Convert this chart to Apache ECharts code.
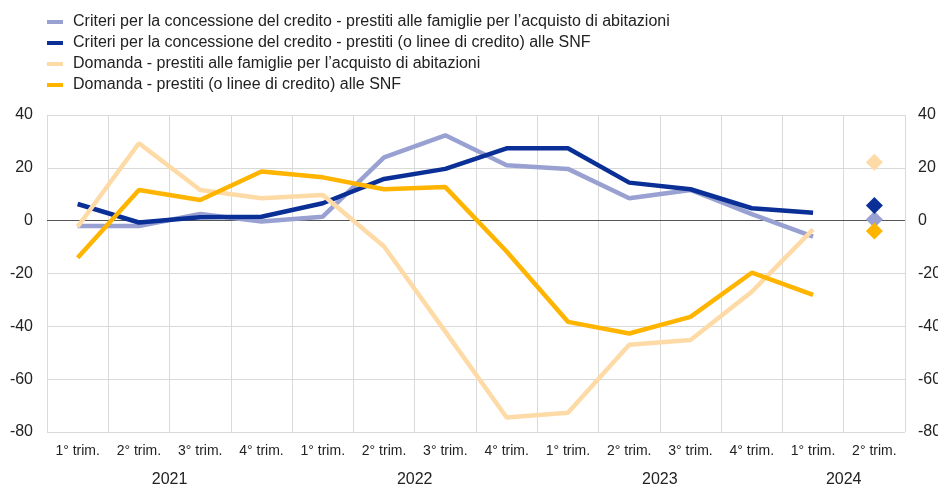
<!DOCTYPE html>
<html>
<head>
<meta charset="utf-8">
<script src="https://cdn.jsdelivr.net/npm/echarts@6/dist/echarts.min.js"></script>
<style>
  html, body { margin: 0; padding: 0; background: #fff; }
  #main { width: 938px; height: 487px; }
</style>
</head>
<body>
<div id="main"></div>
<script>
// trimestri e anni
const quarters = ['1° trim.', '2° trim.', '3° trim.', '4° trim.',
                  '1° trim.', '2° trim.', '3° trim.', '4° trim.',
                  '1° trim.', '2° trim.', '3° trim.', '4° trim.',
                  '1° trim.', '2° trim.'];
const years = ['2021', '2022', '2023', '2024'];
const quartersPerYear = [4, 4, 4, 2];
const yTicks = [-80, -60, -40, -20, 0, 20, 40];

// serie storiche (1° trim. 2021 - 1° trim. 2024)
const criteriFamiglie = [-2, -2, 2.5, -0.3, 1.5, 24, 32.3, 21, 19.6, 8.5, 11.6, 2.5, -6];
const criteriSNF = [6.3, -0.7, 1.3, 1.5, 6.6, 15.8, 19.6, 27.4, 27.4, 14.4, 11.9, 4.7, 3];
const domandaFamiglie = [-2.3, 29.3, 11.6, 8.5, 9.7, -9.8, -42, -74.5, -72.7, -47, -45.2, -26.9, -3.3];
const domandaSNF = [-14, 11.6, 7.8, 18.6, 16.4, 11.9, 12.7, -11.7, -38.3, -42.7, -36.4, -19.7, -28.1];
// attese per il 2° trim. 2024 (stesso ordine della legenda)
const attese = [0.4, 5.7, 22.1, -3.9];

const names = [
  'Criteri per la concessione del credito - prestiti alle famiglie per l\u2019acquisto di abitazioni',
  'Criteri per la concessione del credito - prestiti (o linee di credito) alle SNF',
  'Domanda - prestiti alle famiglie per l\u2019acquisto di abitazioni',
  'Domanda - prestiti (o linee di credito) alle SNF'
];
const colors = ['#98a1d2', '#0a2f96', '#fedba6', '#ffb400'];
const seriesData = [criteriFamiglie, criteriSNF, domandaFamiglie, domandaSNF];

// etichette degli anni centrate sui gruppi di trimestri
const yearSlots = new Array(quarters.length + 1).fill('');
const yearBounds = [0];
let acc = 0;
quartersPerYear.forEach((n, i) => {
  yearSlots[acc + n / 2] = years[i];
  acc += n;
  yearBounds.push(acc);
});

const font = 'Liberation Sans, Arial, sans-serif';
const textColor = '#222';
const gridColor = '#d9d9d9';

const lineSeries = seriesData.map((d, i) => ({
  name: names[i],
  type: 'line',
  data: d,
  xAxisIndex: 0,
  yAxisIndex: 0,
  symbol: 'none',
  lineStyle: { color: colors[i], width: 4.5 },
  itemStyle: { color: colors[i] },
  z: 3 + i,
  markLine: i === 0 ? {
    silent: true,
    symbol: 'none',
    label: { show: false },
    lineStyle: { color: '#555', width: 1, type: 'solid' },
    data: [{ yAxis: 0 }],
    z: 2
  } : undefined
}));

const diamondSeries = attese.map((v, i) => ({
  name: names[i],
  type: 'scatter',
  data: [[quarters.length - 1, v]],
  xAxisIndex: 0,
  yAxisIndex: 0,
  symbol: 'diamond',
  symbolSize: [17, 17],
  itemStyle: { color: colors[i], opacity: 1 },
  z: 10
}));

const chart = echarts.init(document.getElementById('main'));
chart.setOption({
  animation: false,
  textStyle: { fontFamily: font },
  legend: {
    data: names,
    orient: 'vertical',
    left: 42,
    top: 8,
    icon: 'rect',
    itemWidth: 16,
    itemHeight: 4,
    itemGap: 3,
    textStyle: { fontFamily: font, fontSize: 16, color: textColor, lineHeight: 18, padding: [0, 0, 0, 5] }
  },
  grid: { left: 47, right: 33, top: 115, bottom: 55, containLabel: false, outerBoundsMode: 'none' },
  xAxis: [
    {
      type: 'category',
      data: quarters,
      boundaryGap: true,
      axisLine: { show: false },
      axisTick: { show: false },
      axisLabel: { color: textColor, fontSize: 14, margin: 12, interval: 0, fontFamily: font },
      splitLine: { show: true, lineStyle: { color: gridColor, width: 1 } }
    },
    {
      type: 'category',
      data: yearSlots,
      boundaryGap: false,
      position: 'bottom',
      axisLine: { show: false },
      axisTick: {
        show: true,
        length: 56,
        interval: (idx) => yearBounds.includes(idx),
        lineStyle: { color: gridColor, width: 1 }
      },
      axisLabel: {
        color: textColor, fontSize: 16, margin: 40, fontFamily: font,
        interval: (idx, val) => val !== ''
      },
      splitLine: { show: false }
    }
  ],
  yAxis: [
    {
      type: 'value',
      min: yTicks[0],
      max: yTicks[yTicks.length - 1],
      interval: 20,
      axisLine: { show: false },
      axisTick: { show: false },
      axisLabel: { color: textColor, fontSize: 16, margin: 14, fontFamily: font },
      splitLine: { show: true, lineStyle: { color: gridColor, width: 1 } }
    },
    {
      type: 'value',
      position: 'right',
      min: yTicks[0],
      max: yTicks[yTicks.length - 1],
      interval: 20,
      axisLine: { show: false },
      axisTick: { show: false },
      axisLabel: { color: textColor, fontSize: 16, margin: 13, fontFamily: font },
      splitLine: { show: false }
    }
  ],
  series: lineSeries.concat(diamondSeries)
});
</script>
</body>
</html>
